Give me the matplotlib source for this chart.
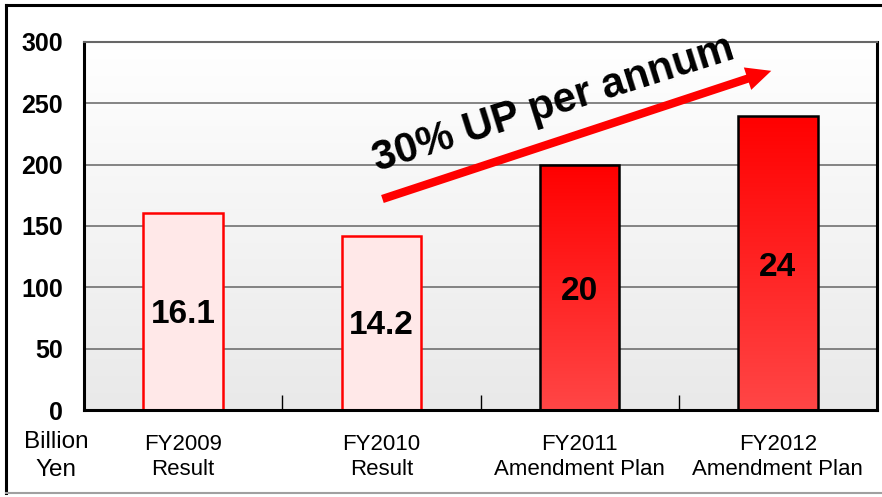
import numpy as np
import matplotlib as mpl
import matplotlib.pyplot as plt
from matplotlib.lines import Line2D
from matplotlib.patches import FancyArrowPatch

mpl.use("agg")
plt.rcParams["font.family"] = ["Liberation Sans", "DejaVu Sans"]

# data (100 million yen; labels shown in billion yen)
years = ["FY2009", "FY2010", "FY2011", "FY2012"]
kinds = ["Result", "Result", "Amendment Plan", "Amendment Plan"]
values = [161, 142, 200, 240]
is_plan = [False, False, True, True]
y_ticks = [0, 50, 100, 150, 200, 250, 300]

fig = plt.figure(figsize=(8.82, 4.97), dpi=100)
ax = fig.add_axes([84 / 882, 1 - 410 / 497, 793 / 882, 368 / 497])

x = np.arange(len(values))

# background gradient white -> light grey
grad = np.linspace(0, 1, 256).reshape(-1, 1)
bg = mpl.colors.LinearSegmentedColormap.from_list("bg", ["#e9e9e9", "#ffffff"])
ax.imshow(grad, cmap=bg, aspect="auto", extent=[-0.5, len(values) - 0.5, 0, 300],
          origin="lower", zorder=0)

ax.set_yticks(y_ticks)
for v in y_ticks[1:-1]:
    ax.axhline(v, color="#707070", lw=1.2, zorder=1)

red = mpl.colors.LinearSegmentedColormap.from_list("red", ["#ff4646", "#ff0000"])
bars = ax.bar(x, values, width=0.40, zorder=2)
for b, v, plan in zip(bars, values, is_plan):
    if plan:
        b.set_facecolor("none")
        b.set_edgecolor("black")
        b.set_linewidth(1.8)
        b.set_zorder(3)
        im = ax.imshow(grad, cmap=red, aspect="auto",
                       extent=[b.get_x(), b.get_x() + b.get_width(), 0, v],
                       origin="lower", zorder=2)
        im.set_clip_path(b)
    else:
        b.set_facecolor("#ffe8e8")
        b.set_edgecolor("#ff0000")
        b.set_linewidth(1.8)
    ax.text(b.get_x() + b.get_width() / 2, v * 0.485, f"{v / 10:g}",
            ha="center", va="center", fontsize=24, fontweight="bold", zorder=4)

ax.set_xlim(-0.5, len(values) - 0.5)
ax.set_ylim(0, 300)

ax.set_xticks(x)
ax.set_xticklabels([f"{a}\n{b}" for a, b in zip(years, kinds)], fontsize=16,
                   linespacing=1.3)
ax.set_xticks(x[:-1] + 0.5, minor=True)
ax.tick_params(axis="x", which="major", length=0, pad=17)
ax.tick_params(axis="x", which="minor", direction="in", length=11, width=1, color="black")
ax.tick_params(axis="y", length=0, pad=15)
for lab in ax.get_yticklabels():
    lab.set_fontsize(18)
    lab.set_fontweight("bold")

for s in ["left", "bottom"]:
    ax.spines[s].set_linewidth(2.2)
    ax.spines[s].set_color("black")
ax.spines["top"].set_color("#666666")
ax.spines["top"].set_linewidth(1.5)
ax.spines["right"].set_color("black")
ax.spines["right"].set_linewidth(2.2)

fig.text(56 / 882, 1 - 456 / 497, "Billion\nYen", ha="center", va="center",
         fontsize=17.5, linespacing=1.3)

# growth arrow and caption
arr = FancyArrowPatch((0.373, 0.571), (0.870, 0.924), transform=ax.transAxes,
                      arrowstyle="simple,head_length=0.9,head_width=0.85,tail_width=0.3",
                      mutation_scale=20, color="#ff0000", lw=0, zorder=5)
ax.add_patch(arr)
ax.text(0.592, 0.832, "30% UP per annum", transform=ax.transAxes, rotation=17.5,
        rotation_mode="anchor", ha="center", va="center", fontsize=30,
        fontweight="bold", zorder=5)

# outer frame
fig.add_artist(Line2D([6 / 882, 1], [1 - 5 / 497, 1 - 5 / 497], color="black", lw=2.2,
                      transform=fig.transFigure))
fig.add_artist(Line2D([6 / 882, 6 / 882], [1 - 5 / 497, 1 - 493 / 497], color="black",
                      lw=2.2, transform=fig.transFigure))
fig.add_artist(Line2D([6 / 882, 1], [1 - 493 / 497, 1 - 493 / 497], color="#a0a0a0",
                      lw=1.5, transform=fig.transFigure))

fig.savefig("out.png", dpi=100)
